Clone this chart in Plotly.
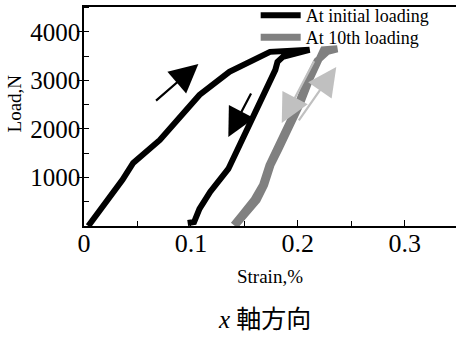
import plotly.graph_objects as go

# Initial loading (loading branch then unloading branch), strain % / load N
init_strain = [0.004, 0.027, 0.034, 0.036, 0.046, 0.071, 0.108, 0.136, 0.174, 0.211,
               0.186, 0.181, 0.179, 0.143, 0.135, 0.118, 0.108, 0.103, 0.097]
init_load = [0, 680, 845, 950, 1300, 1773, 2700, 3175, 3588, 3630,
             3485, 3381, 3216, 1567, 1175, 701, 351, 82, 62]

# 10th loading (loading branch then unloading branch)
tenth_strain = [0.142, 0.150, 0.162, 0.169, 0.175, 0.182, 0.192, 0.202, 0.211, 0.219, 0.224, 0.237,
                0.228, 0.218, 0.209, 0.200, 0.190, 0.180, 0.173, 0.167, 0.159, 0.148, 0.140]
tenth_load = [20, 247, 536, 845, 1258, 1567, 2021, 2495, 3010, 3423, 3629, 3650,
              3600, 3400, 3000, 2500, 2020, 1560, 1250, 845, 540, 240, 20]

# Direction arrows: (tail_x, tail_y, tip_x, tip_y, colour)
arrows = [
    (0.066, 2557, 0.107, 3340, "black"),
    (0.157, 2763, 0.135, 1835, "black"),
    (0.216, 3423, 0.185, 2124, "#c0c0c0"),
    (0.200, 2144, 0.236, 3278, "#c0c0c0"),
]

x_ticks = [0, 0.1, 0.2, 0.3]
x_labels = ["0", "0.1", "0.2", "0.3"]
y_ticks = [1000, 2000, 3000, 4000]

SERIF = "Liberation Serif, Times New Roman, serif"

fig = go.Figure()
fig.add_trace(go.Scatter(x=init_strain, y=init_load, mode="lines", name="At initial loading",
                         line=dict(color="black", width=6), legend="legend", showlegend=True))
fig.add_trace(go.Scatter(x=tenth_strain, y=tenth_load, mode="lines", name="At 10th loading",
                         line=dict(color="#808080", width=7), legend="legend2", showlegend=True))

for tx, ty, hx, hy, c in arrows:
    fig.add_annotation(x=hx, y=hy, ax=tx, ay=ty, xref="x", yref="y", axref="x", ayref="y",
                       text="", showarrow=True, arrowhead=2, arrowsize=2.6, arrowwidth=2.2,
                       arrowcolor=c)

leg_common = dict(xanchor="left", yanchor="top", bgcolor="rgba(0,0,0,0)",
                  font=dict(size=18, family=SERIF), itemwidth=40, visible=True)

fig.update_layout(
    width=456, height=338,
    showlegend=True,
    margin=dict(l=84, r=0, t=7, b=112, autoexpand=False),
    paper_bgcolor="white", plot_bgcolor="white",
    font=dict(family=SERIF, color="black"),
    legend=dict(x=0.4615, y=1.046, **leg_common),
    legend2=dict(x=0.4615, y=0.945, **leg_common),
    xaxis=dict(range=[0, 0.348], showline=True, linecolor="black", linewidth=1.5, mirror=True,
               automargin=False,
               tickvals=x_ticks, ticktext=x_labels, ticks="inside", ticklen=6, tickcolor="black",
               minor=dict(dtick=0.05, ticks="inside", ticklen=5, tickcolor="black"),
               ticklabelstandoff=-7,
               tickfont=dict(size=26, family=SERIF), showgrid=False, zeroline=False),
    yaxis=dict(range=[0, 4512], showline=True, linecolor="black", linewidth=1.5,
               automargin=False,
               tickvals=y_ticks, ticks="outside", ticklen=5, tickcolor="black",
               minor=dict(dtick=500, ticks="inside", ticklen=5, tickcolor="black"),
               ticklabelstandoff=-8,
               tickfont=dict(size=25, family=SERIF), showgrid=False, zeroline=False),
)

fig.add_annotation(text="Load,N", textangle=-90, xref="paper", yref="paper",
                   x=-0.188, y=0.56, xanchor="center", yanchor="middle",
                   showarrow=False, font=dict(size=19, family=SERIF))
fig.add_annotation(text="Strain,%", xref="paper", yref="paper", x=0.5, y=-0.232,
                   xanchor="center", yanchor="middle",
                   showarrow=False, font=dict(size=19, family=SERIF))
fig.add_annotation(text="<i>x</i> 軸方向", xref="paper", yref="paper", x=0.485, y=-0.425,
                   xanchor="center", yanchor="middle", showarrow=False,
                   font=dict(size=25, family="Liberation Serif, Noto Sans CJK JP, serif"))

fig.write_html("out.html", config={"displayModeBar": False},
               post_script="document.body.style.margin='0';document.body.style.overflow='hidden';")
